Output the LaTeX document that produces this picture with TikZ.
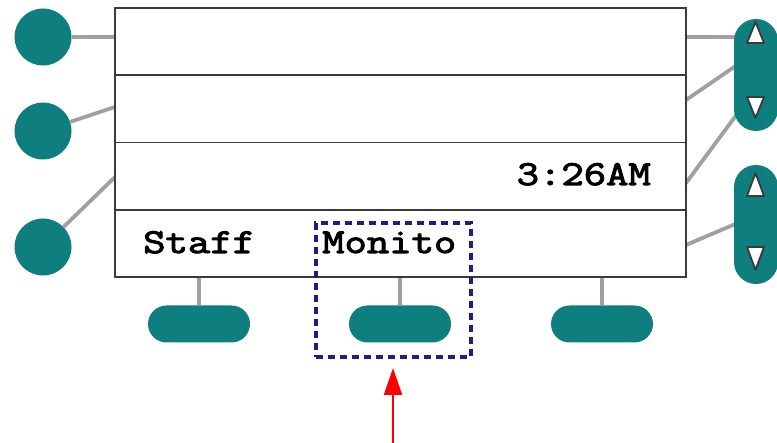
\documentclass[tikz,border=0pt]{standalone}
\usepackage{fontspec}
\newfontfamily\lcdfont[FakeStretch=1.24, FakeBold=3]{Latin Modern Mono}
\usetikzlibrary{arrows.meta}
\definecolor{btnteal}{HTML}{0E7F7E}
\definecolor{wiregray}{HTML}{A0A0A0}
\definecolor{framegray}{HTML}{3A3A3A}
\definecolor{selblue}{HTML}{1C1C8A}
\tikzset{
  row/.style={draw=framegray, line width=1.7pt, fill=white, minimum width=571pt, minimum height=67.25pt, inner sep=0pt},
  roundbtn/.style={circle, fill=btnteal, minimum size=57pt, inner sep=0pt},
  scrollbtn/.style={rectangle, fill=btnteal, rounded corners=22pt, minimum width=44pt, inner sep=0pt},
  softbtn/.style={rectangle, fill=btnteal, rounded corners=18.5pt, minimum width=102pt, minimum height=37pt, inner sep=0pt},
  wire/.style={draw=wiregray, line width=3.8pt},
  tri/.style={fill=white, draw=framegray, line width=1.8pt, line join=round},
  lcd/.style={font=\lcdfont\fontsize{35}{35}\selectfont, inner sep=0pt, text=black},
  selbox/.style={draw=selblue, line width=3.5pt, dash pattern=on 7pt off 5pt},
  pointer/.style={draw=red, line width=2pt, -{Triangle[width=18pt,length=27pt]}}
}
\begin{document}
\begin{tikzpicture}[x=1pt,y=-1pt]
\useasboundingbox (0,0) rectangle (777,443);
\fill[white] (0,0) rectangle (777,443);

% wires (behind)
\coordinate (l1) at (115,37);
\coordinate (l2) at (115,107);
\coordinate (l3) at (115,177);
\coordinate (q1) at (686,37);
\coordinate (q2) at (686,100);
\coordinate (q3) at (686,183);
\coordinate (q4) at (686,245);
\coordinate (a1) at (740,37);
\coordinate (a2) at (740,63);
\coordinate (a3) at (740,110);
\coordinate (a4) at (740,222);

\node[roundbtn] (c1) at (43,37) {};
\node[roundbtn] (c2) at (43,131) {};
\node[roundbtn] (c3) at (43,247) {};

\draw[wire] (c1) -- (l1);
\draw[wire] (c2) -- (l2);
\draw[wire] (c3) -- (l3);
\draw[wire] (q1) -- (a1);
\draw[wire] (q2) -- (a2);
\draw[wire] (q3) -- (a3);
\draw[wire] (q4) -- (a4);

% soft key stems
\coordinate (s1) at (199,277);
\coordinate (s2) at (400,277);
\coordinate (s3) at (602,277);
\node[softbtn] (k1) at (199,324) {};
\node[softbtn] (k2) at (400,324) {};
\node[softbtn] (k3) at (602,324) {};
\draw[wire] (s1) -- (k1);
\draw[wire] (s2) -- (k2);
\draw[wire] (s3) -- (k3);

% display rows
\node[row] (r1) at (400.5,41.6) {};
\node[row] (r2) at (400.5,108.9) {};
\node[row] (r3) at (400.5,176.1) {};
\node[row] (r4) at (400.5,243.4) {};

% scroll buttons
\node[scrollbtn, minimum height=112pt] (p1) at (756,75) {};
\node[scrollbtn, minimum height=119pt] (p2) at (756,224.5) {};
\draw[tri] (755.5,22) -- (764,43) -- (747,43) -- cycle;
\draw[tri] (755.5,118) -- (764,97) -- (747,97) -- cycle;
\draw[tri] (755.5,173) -- (764,196) -- (747,196) -- cycle;
\draw[tri] (755.5,270) -- (764,247) -- (747,247) -- cycle;

% texts
\node[lcd, anchor=base east] (t1) at (651,185) {3:26AM};
\node[lcd, anchor=base west] (t2) at (143,253) {Staff};
\node[lcd, anchor=base west] (t3) at (322,253) {Monito};

% selection box
\node[selbox, minimum width=155pt, minimum height=134pt, inner sep=0pt] (sel) at (393.5,290) {};

% pointer
\coordinate (ptr) at (393,443);
\coordinate (tip) at (393,368);
\draw[pointer] (ptr) -- (tip);
\end{tikzpicture}
\end{document}
